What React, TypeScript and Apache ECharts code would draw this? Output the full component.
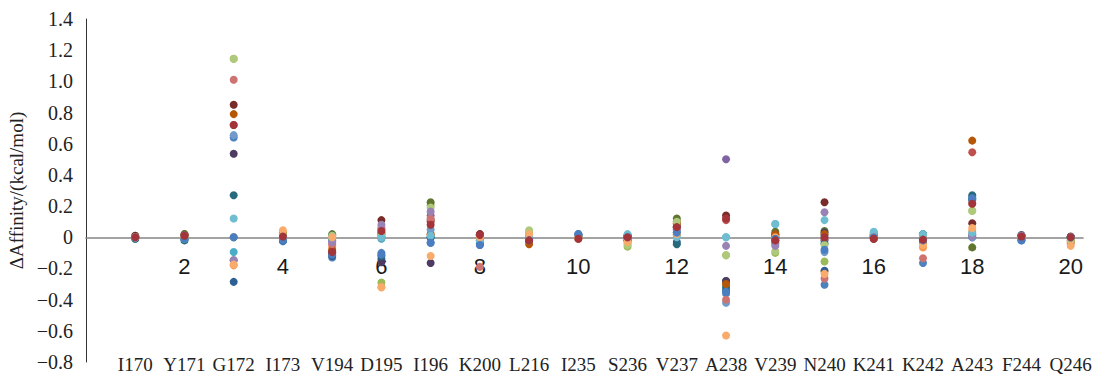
import React, { useEffect, useRef } from "react";
import * as echarts from "echarts";

const categories = ["I170", "Y171", "G172", "I173", "V194", "D195", "I196", "K200", "L216", "I235",
  "S236", "V237", "A238", "V239", "N240", "K241", "K242", "A243", "F244", "Q246"];

const yTicks = { min: -0.8, max: 1.4, step: 0.2 };
const xTicks = { min: 0, max: 20.25, step: 2 };

const seriesColors = [
  "#4F81BD", "#C0504D", "#9BBB59", "#8064A2", "#4BACC6", "#F79646", "#2C5F93", "#772C2A", "#5F7530", "#4D3B62",
  "#276A7C", "#B65708", "#729ACA", "#CD7371", "#AFC97A", "#9983B5", "#6FBDD1", "#F9AB6B", "#4A7EC0", "#A3343A",
];

const s1 = [0, -0.01, 0.64, -0.025, -0.13, -0.1, -0.035, -0.05, -0.01, 0.02, 0.0, 0.03, -0.36, -0.02, -0.305, 0.0, -0.165, 0.255, -0.02, 0.0];
const s2 = [0, 0.01, 0.72, 0.0, -0.1, 0.03, 0.1, 0.02, 0.0, 0.0, 0.0, 0.065, 0.11, -0.01, -0.015, 0.0, -0.01, 0.545, 0.0, 0.0];
const s3 = [0.01, 0, 1.145, 0.01, 0.0, -0.29, 0.205, 0.0, 0.03, 0.0, -0.06, 0.08, -0.115, -0.1, -0.155, 0.01, 0.0, 0.17, 0.0, -0.01];
const s4 = [0, 0, -0.147, 0.0, -0.02, 0.06, 0.14, 0.01, 0.0, 0.01, -0.01, 0.05, 0.5, -0.04, -0.02, 0.0, 0.0, 0.02, 0.01, 0.0];
const s5 = [-0.01, -0.01, -0.094, -0.01, -0.01, -0.01, 0.0, -0.02, 0.0, 0.01, 0.01, 0.01, 0.0, 0.085, 0.01, 0.03, 0.02, 0.24, -0.01, 0.0];
const s6 = [0, 0, -0.18, 0.03, -0.06, -0.32, 0.02, 0.0, 0.01, 0.0, -0.04, 0.02, -0.3, 0.0, -0.22, 0.0, -0.065, 0.04, 0.0, -0.03];
const s7 = [0, -0.01, -0.286, -0.02, -0.12, -0.14, 0.0, -0.04, -0.02, 0.02, 0.0, -0.03, -0.34, 0.0, -0.215, 0.0, -0.01, 0.24, -0.01, 0.0];
const s8 = [0.01, 0.02, 0.85, 0.02, -0.09, 0.11, 0.11, 0.02, -0.02, 0.0, 0.01, 0.1, 0.14, 0.01, 0.225, -0.01, -0.02, 0.09, 0.01, 0.005];
const s9 = [0, 0.02, 0.0, 0.01, 0.02, 0.02, 0.225, 0.01, 0.01, 0.0, -0.02, 0.12, -0.28, 0.035, 0.04, 0.01, 0.01, -0.065, 0.0, 0.0];
const s10 = [0, 0.01, 0.536, 0, -0.1, -0.16, -0.165, 0.0, -0.01, 0.01, 0.0, 0.07, -0.28, 0.02, 0.03, 0.0, 0.0, 0.0, 0.015, 0.0];
const s11 = [-0.01, -0.02, 0.27, -0.02, 0.01, -0.12, 0.0, -0.01, 0.0, 0.0, 0.015, -0.045, -0.32, 0.0, -0.04, 0.02, 0.02, 0.27, 0.0, 0.0];
const s12 = [0, 0.01, 0.79, 0.02, -0.08, 0.0, 0.02, 0.01, -0.045, -0.01, -0.02, 0.09, -0.3, 0.02, 0.02, 0.0, -0.03, 0.62, 0.0, -0.02];
const s13 = [0, 0, 0.655, -0.01, -0.03, 0.0, 0.05, -0.02, 0.0, 0.015, 0.0, 0.04, -0.42, -0.03, -0.095, 0.01, 0.0, 0.0, -0.015, 0.0];
const s14 = [0, 0.01, 1.01, 0.01, -0.045, 0.05, 0.12, -0.19, -0.01, 0.0, -0.02, 0.06, -0.4, -0.02, -0.265, 0.0, -0.135, 0.22, 0.0, -0.04];
const s15 = [0, 0, 1.145, 0.02, 0.01, 0.01, 0.19, 0.0, 0.045, 0.0, -0.05, 0.1, -0.115, -0.09, -0.05, 0.025, 0.01, 0.17, 0.0, -0.02];
const s16 = [0, 0.01, -0.147, 0, -0.03, 0.08, 0.165, 0.01, 0.0, 0.01, -0.01, 0.05, -0.055, -0.055, 0.16, 0.01, -0.01, 0.01, 0.01, 0.0];
const s17 = [0, -0.01, 0.12, -0.01, 0.0, 0.0, 0.01, -0.02, 0.01, 0.01, 0.02, 0.0, 0.0, 0.085, 0.11, 0.035, 0.02, 0.03, -0.01, 0.0];
const s18 = [0, 0, -0.175, 0.045, 0.0, -0.32, -0.12, 0.0, 0.02, 0.0, -0.03, 0.02, -0.63, 0.0, -0.235, 0.0, -0.05, 0.06, 0.0, -0.055];
const s19 = [0, -0.01, 0.0, -0.02, -0.11, -0.11, -0.035, -0.05, -0.02, 0.02, 0.0, 0.03, -0.35, -0.01, -0.08, 0.0, -0.02, 0.25, -0.02, 0.0];
const s20 = [0, 0.01, 0.72, 0.005, -0.095, 0.04, 0.08, 0.015, -0.02, -0.01, 0.0, 0.065, 0.12, -0.02, 0.0, -0.01, -0.015, 0.215, 0.005, 0.0];

const seriesValues = [s1, s2, s3, s4, s5, s6, s7, s8, s9, s10, s11, s12, s13, s14, s15, s16, s17, s18, s19, s20];

const serif = "'Liberation Serif', 'Times New Roman', serif";
const sans = "'Liberation Sans', Arial, sans-serif";

const GRID_TOP = 19;
const GRID_BOTTOM = 15;
const CHART_H = 377;

export default function App() {
  const ref = useRef<HTMLDivElement>(null);
  useEffect(() => {
    if (!ref.current) return;
    const chart = echarts.init(ref.current, undefined, { renderer: "svg" });
    const fmtY = (v: number) => {
      if (Math.abs(v) < 1e-9) return "0";
      const s = Math.abs(v).toFixed(1);
      return v < 0 ? "\u2212" + s : s;
    };
    const plotH = CHART_H - GRID_TOP - GRID_BOTTOM;
    // distance from the bottom of the plot to the y = 0 line
    const zeroOffset = (plotH * (0 - yTicks.min)) / (yTicks.max - yTicks.min);
    chart.setOption({
      animation: false,
      backgroundColor: "#ffffff",
      grid: { left: 86, right: 20, top: GRID_TOP, bottom: GRID_BOTTOM, containLabel: false, outerBoundsMode: "none" },
      xAxis: [
        {
          type: "value",
          position: "bottom",
          offset: -zeroOffset,
          min: xTicks.min,
          max: xTicks.max,
          interval: xTicks.step,
          axisLine: { show: true, onZero: false, lineStyle: { color: "#858585", width: 1.6 } },
          axisTick: { show: false },
          splitLine: { show: false },
          axisLabel: {
            margin: 18,
            fontFamily: sans,
            fontSize: 22,
            color: "#1a1a1a",
            formatter: (v: number) => (v > 0 && Math.abs(v % 2) < 1e-9 ? String(v) : ""),
          },
        },
        {
          type: "value",
          position: "bottom",
          offset: -10,
          min: xTicks.min,
          max: xTicks.max,
          interval: 1,
          axisLine: { show: false, onZero: false },
          axisTick: { show: false },
          splitLine: { show: false },
          axisLabel: {
            margin: 3,
            fontFamily: serif,
            fontSize: 19,
            color: "#222",
            formatter: (v: number) => {
              const i = Math.round(v);
              if (Math.abs(v - i) > 1e-9) return "";
              return categories[i - 1] ?? "";
            },
          },
        },
      ],
      yAxis: {
        type: "value",
        min: yTicks.min,
        max: yTicks.max,
        interval: yTicks.step,
        name: "\u0394Affinity/(kcal/mol)",
        nameLocation: "middle",
        nameRotate: 90,
        nameGap: 58,
        nameTextStyle: { fontFamily: serif, fontSize: 19, color: "#222" },
        axisLine: { show: true, onZero: false, lineStyle: { color: "#333", width: 1 } },
        axisTick: { show: false },
        splitLine: { show: false },
        axisLabel: { margin: 13, fontFamily: serif, fontSize: 20, color: "#222", formatter: fmtY },
      },
      series: seriesValues.map((vals, si) => ({
        type: "scatter",
        name: "S" + (si + 1),
        xAxisIndex: 0,
        symbol: "circle",
        symbolSize: 8,
        itemStyle: { color: seriesColors[si], opacity: 1 },
        data: vals.map((v, i) => [i + 1, v]),
      })),
    });
    return () => chart.dispose();
  }, []);
  return <div ref={ref} style={{ position: "absolute", left: 0, top: 0, width: 1103, height: 377 }} />;
}
